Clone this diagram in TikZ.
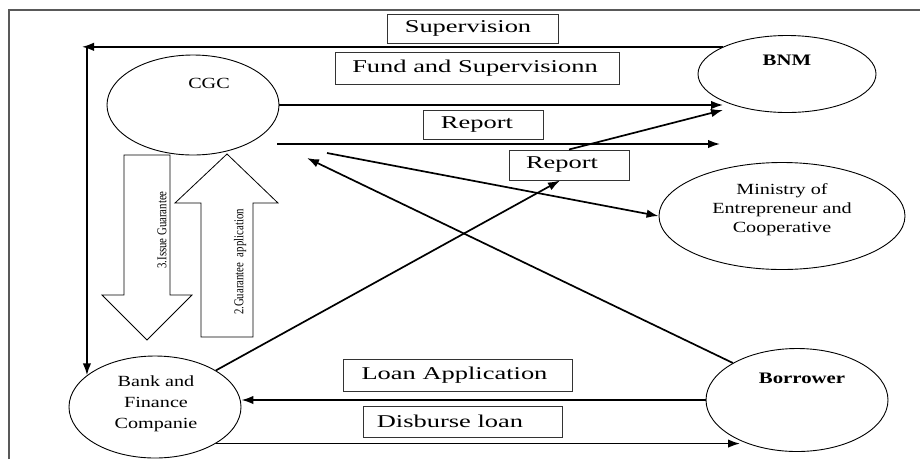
\documentclass[tikz,border=0pt]{standalone}
\usepackage{fontspec}
\setmainfont{Liberation Serif}
\newfontfamily\lblfont[FakeStretch=1.47]{Liberation Serif}
\newfontfamily\ellfont[FakeStretch=1.3]{Liberation Serif}
\newfontfamily\narfont[FakeStretch=0.8]{Liberation Serif}
\usetikzlibrary{arrows.meta,shapes.geometric}
\begin{document}
\begin{tikzpicture}[x=1pt,y=-1pt,
  ell/.style={draw, ellipse, inner sep=0pt, line width=0.9pt},
  lbox/.style={draw=black!80, rectangle, inner sep=0pt, line width=1pt},
  lbl/.style={font=\lblfont\fontsize{18}{20}\selectfont, inner sep=0pt},
  etxt/.style={font=\ellfont\fontsize{15.5}{20}\selectfont, inner sep=0pt, align=center},
  btxt/.style={font=\ellfont\bfseries\fontsize{16}{20}\selectfont, inner sep=0pt},
  arr/.style={line width=1.7pt, -{Latex[length=12pt,width=8.5pt]}},
  blk/.style={draw, line width=0.8pt, fill=white},
  vtxt/.style={font=\narfont\fontsize{13.5}{15}\selectfont, inner sep=0pt, rotate=90},
  frame/.style={line width=1.8pt, black!65}
]
\useasboundingbox (0,0) rectangle (920,459);
% frame
\draw[frame] (9,459) -- (9,10) -- (920,10);

% ellipses
\node[ell, minimum width=172pt, minimum height=100pt] (cgc) at (193,105) {};
\node[ell, minimum width=178pt, minimum height=77pt] (bnm) at (787,74) {};
\node[ell, minimum width=246pt, minimum height=107pt] (min) at (782,216) {};
\node[ell, minimum width=172pt, minimum height=102pt] (bank) at (155,407) {};
\node[ell, minimum width=182pt, minimum height=103pt] (borr) at (797,400) {};

\node[etxt] (cgct) at (209,83) {CGC};
\node[btxt] (bnmt) at (787,60) {BNM};
\node[etxt, font=\ellfont\fontsize{15.5}{19}\selectfont] (mint) at (782,210) {Ministry of\\Entrepreneur and\\Cooperative};
\node[etxt, font=\ellfont\fontsize{15.5}{21}\selectfont] (bankt) at (156,404) {Bank and\\Finance\\Companie};
\node[btxt] (borrt) at (802,378) {Borrower};

% label boxes
\node[lbox, minimum width=171pt, minimum height=29pt] (sup) at (472.5,28.5) {};
\node[lbl] (supt) at (468,28.5) {Supervision};
\node[lbox, minimum width=284pt, minimum height=32pt] (fund) at (477,68) {};
\node[lbl] (fundt) at (475,68) {Fund and Supervisionn};
\node[lbox, minimum width=120pt, minimum height=29pt] (rep1) at (483,124.5) {};
\node[lbl] (rep1t) at (477,124.5) {Report};
\node[lbox, minimum width=120pt, minimum height=30pt] (rep2) at (569,165) {};
\node[lbl] (rep2t) at (562,165) {Report};
\node[lbox, minimum width=229pt, minimum height=32pt] (loan) at (457.5,375) {};
\node[lbl] (loant) at (454.5,375) {Loan Application};
\node[lbox, minimum width=199pt, minimum height=31pt] (disb) at (462.5,421.5) {};
\node[lbl] (disbt) at (450,421.5) {Disburse loan};

% block arrows
\draw[blk] (124,155) -- (124,295) -- (102,295) -- (147,340) -- (192,295) -- (170,295) -- (170,155) -- cycle;
\draw[blk] (201,337) -- (201,203) -- (175,203) -- (227,154) -- (278,203) -- (253,203) -- (253,337) -- cycle;
\node[vtxt] (igt) at (162,230) {3.Issue Guarantee};
\node[vtxt] (gat) at (240,262) {2.Guarantee\ \ application};

% coordinates for free ends
\coordinate (svL) at (82,47);
\coordinate (svT) at (87,47);
\coordinate (bnmIn1) at (723,106);
\coordinate (bnmIn2) at (723,110);
\coordinate (r2s) at (277,144);
\coordinate (r2e) at (720,144);
\coordinate (cmS) at (327,153);
\coordinate (bcE) at (307,158);
\coordinate (dlE) at (740,443);

% connectors
\draw[arr] (bnm.157) -- (bnm.157 -| svL);
\draw[arr] (svT) -- (bank.155);
\draw[arr] (cgc.east) -- (cgc.east -| bnmIn1);
\draw[arr] (r2s) -- (r2e);
\draw[arr] (bank.31) -- ([xshift=-9pt]rep2.south);
\draw[arr] (rep2.north) -- (bnmIn2);
\draw[arr] (cmS) -- (min.west);
\draw[arr] (borr.150) -- (bcE);
\draw[arr] (borr.west) -- (borr.west -| bank.east);
\draw[arr] (bank.-31) -- (bank.-31 -| dlE);
\end{tikzpicture}
\end{document}
